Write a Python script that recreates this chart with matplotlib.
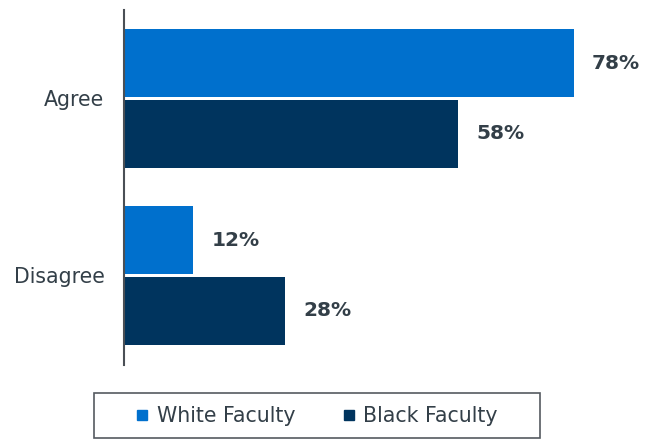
import matplotlib
matplotlib.use("Agg")
import matplotlib.pyplot as plt
import numpy as np
from matplotlib.lines import Line2D
from matplotlib.patches import Rectangle

categories = ["Agree", "Disagree"]
series = ["White Faculty", "Black Faculty"]
white = [78, 12]
black = [58, 28]
colors = ["#0070CD", "#00345E"]
text_color = "#333F48"

plt.rcParams["font.family"] = ["DejaVu Sans"]

fig = plt.figure(figsize=(6.48, 4.40), dpi=100)
ax = fig.add_axes([124 / 648, 75 / 440, 519 / 648, 355 / 440])

y = np.arange(len(categories))
h = 0.384
off = 0.2
for vals, c, d in [(white, colors[0], -off), (black, colors[1], off)]:
    bars = ax.barh(y + d, vals, height=h, color=c)
    for b, v in zip(bars, vals):
        ax.annotate(f"{v}%", (b.get_width(), b.get_y() + b.get_height() / 2),
                    xytext=(18, 0), textcoords="offset pixels",
                    va="center", ha="left", fontsize=14.5, fontweight="bold",
                    color=text_color)

ax.set_xlim(0, 90)
ax.set_ylim(1.506, -0.5)
ax.set_yticks(y)
ax.set_yticklabels(categories, fontsize=14.8, color=text_color)
ax.tick_params(axis="y", length=0, pad=14)
ax.set_xticks([])
for s in ["top", "right", "bottom"]:
    ax.spines[s].set_visible(False)
ax.spines["left"].set_color("#4A4F55")
ax.spines["left"].set_linewidth(1.5)

# legend entries, framed by a box like the original
handles = [Line2D([], [], marker="s", ls="", color=c, markersize=7) for c in colors]
leg = fig.legend(handles, series, loc="center", bbox_to_anchor=(317 / 648, 1 - 416 / 440),
                 ncol=2, fontsize=14.8, frameon=False,
                 handlelength=0.6, handletextpad=0.4, columnspacing=2.3,
                 borderpad=0.45, borderaxespad=0)
for t in leg.get_texts():
    t.set_color(text_color)
fig.patches.append(Rectangle((94 / 648, 2 / 440), 446 / 648, 45 / 440,
                             transform=fig.transFigure, fill=False,
                             edgecolor="#555A60", linewidth=1.2))

fig.savefig("out.png", dpi=100)
